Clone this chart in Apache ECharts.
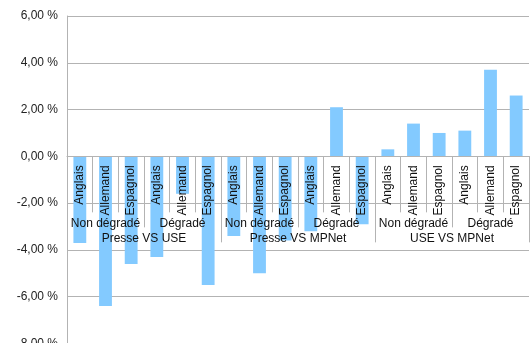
<!DOCTYPE html>
<html><head><meta charset="utf-8">
<script src="https://cdn.jsdelivr.net/npm/echarts@6/dist/echarts.min.js"></script>
<style>html,body{margin:0;padding:0;background:#fff}#c{width:530px;height:343px}</style>
</head><body><div id="c"></div>
<script>
const languages = ['Anglais','Allemand','Espagnol','Anglais','Allemand','Espagnol','Anglais','Allemand','Espagnol','Anglais','Allemand','Espagnol','Anglais','Allemand','Espagnol','Anglais','Allemand','Espagnol'];
const conditions = ['Non dégradé','Dégradé','Non dégradé','Dégradé','Non dégradé','Dégradé'];
const comparisons = ['Presse VS USE','Presse VS MPNet','USE VS MPNet'];
const values = [-3.7,-6.4,-4.6,-4.3,-1.6,-5.5,-3.4,-5.0,-3.6,-3.2,2.1,-2.9,0.3,1.4,1.0,1.1,3.7,2.6];
const yMin = -8, yMax = 6, yStep = 2;

const font = 'Liberation Sans, Arial, sans-serif';
const gridTop = 16, gridH = 327.5;
const zeroOff = -(gridH * (-yMin) / (yMax - yMin));
const gray = '#b3b3b3';

const chart = echarts.init(document.getElementById('c'));
chart.setOption({
  animation: false,
  textStyle: {fontFamily: font},
  grid: {left: 67, right: 1, top: gridTop, height: gridH, containLabel: false, outerBoundsMode: 'none'},
  xAxis: [
    {type: 'category', data: languages, position: 'bottom', z: 5, offset: zeroOff,
     axisLine: {onZero: false, lineStyle: {color: gray}},
     axisTick: {show: true, length: 56, lineStyle: {color: gray}},
     axisLabel: {rotate: 90, margin: 9, fontSize: 12, color: '#111', fontFamily: font, interval: 0}},
    {type: 'category', data: conditions, position: 'bottom', z: 5, offset: zeroOff,
     axisLine: {show: false, onZero: false},
     axisTick: {show: true, length: 71, lineStyle: {color: gray}},
     axisLabel: {margin: 61, fontSize: 12, color: '#111', fontFamily: font, interval: 0}},
    {type: 'category', data: comparisons, position: 'bottom', z: 5, offset: zeroOff,
     axisLine: {show: false, onZero: false},
     axisTick: {show: true, length: 86, lineStyle: {color: gray}},
     axisLabel: {margin: 76, fontSize: 12, color: '#111', fontFamily: font, interval: 0}}
  ],
  yAxis: {type: 'value', min: yMin, max: yMax, interval: yStep,
    axisLine: {show: true, lineStyle: {color: gray}},
    axisTick: {show: false},
    splitLine: {lineStyle: {color: gray}},
    axisLabel: {margin: 9, fontSize: 12, color: '#222', fontFamily: font,
      formatter: v => v.toFixed(2).replace('.', ',') + ' %'}},
  series: [{type: 'bar', xAxisIndex: 0, data: values, barWidth: '50%',
    itemStyle: {color: '#83caff'}}]
});
</script></body></html>
